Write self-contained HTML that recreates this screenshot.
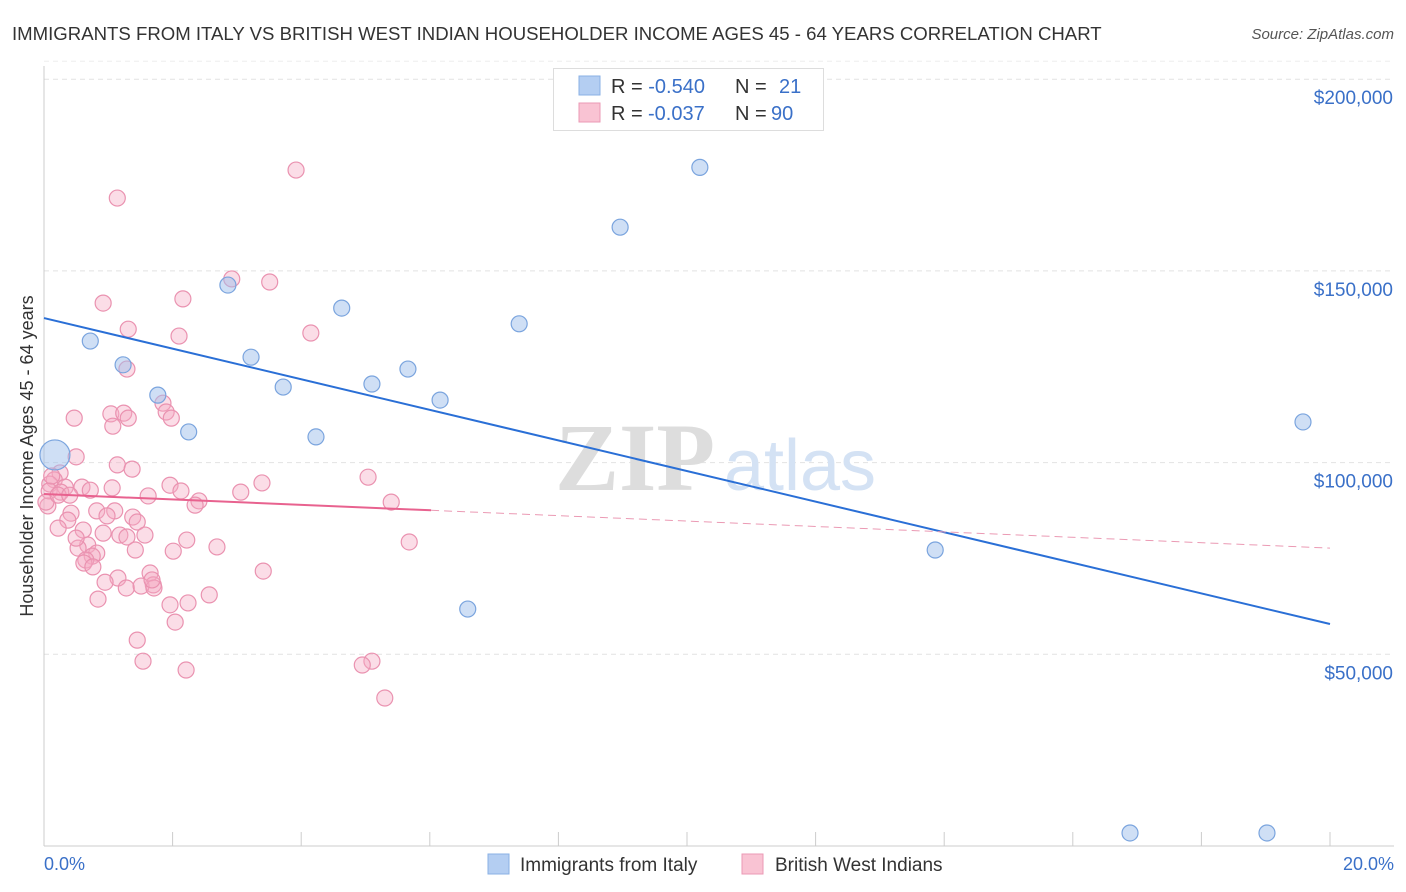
<!DOCTYPE html>
<html><head><meta charset="utf-8"><style>
body{margin:0;background:#fff;font-family:"Liberation Sans",sans-serif;}
svg{display:block}
</style></head><body>
<svg id="chart" width="1406" height="892" xmlns="http://www.w3.org/2000/svg">
<text x="12" y="40" font-size="18.6" fill="#333">IMMIGRANTS FROM ITALY VS BRITISH WEST INDIAN HOUSEHOLDER INCOME AGES 45 - 64 YEARS CORRELATION CHART</text>
<text x="1394" y="39" font-size="15" fill="#555" font-style="italic" text-anchor="end">Source: ZipAtlas.com</text>
<g id="grid"></g>
<g><text x="635" y="490" font-size="96" fill="#ddd" font-family="Liberation Serif,serif" text-anchor="middle" font-weight="bold">ZIP</text><text x="800" y="490" font-size="72" fill="#d4e2f4" text-anchor="middle">atlas</text></g>
<line x1="44" y1="66" x2="44" y2="846" stroke="#ccc"/>
<line x1="44" y1="846" x2="1394" y2="846" stroke="#ccc"/>
<g id="xt"></g>
<text x="44" y="870" font-size="18" fill="#3a70c8">0.0%</text>
<text x="1394" y="870" font-size="18" fill="#3a70c8" text-anchor="end">20.0%</text>
<text transform="translate(33,456) rotate(-90)" font-size="18" fill="#333" text-anchor="middle">Householder Income Ages 45 - 64 years</text>
<g id="pts"></g>
<g id="lines"></g>
<g>
<rect x="553.5" y="68.5" width="270" height="62" fill="#fff" stroke="#ddd"/>
<rect x="579" y="76" width="21" height="19" fill="#b4cef2" stroke="#8ab0e4"/>
<rect x="579" y="103" width="21" height="19" fill="#f9c3d3" stroke="#eb9ab4"/>
<text x="611" y="93" font-size="20" fill="#333">R = <tspan fill="#3a70c8">-0.540</tspan><tspan x="735">N = </tspan><tspan x="779" fill="#3a70c8">21</tspan></text>
<text x="611" y="120" font-size="20" fill="#333">R = <tspan fill="#3a70c8" x="648">-0.037</tspan><tspan x="735">N = </tspan><tspan x="771" fill="#3a70c8">90</tspan></text>
</g>
<g>
<rect x="488" y="854" width="21" height="20" fill="#b4cef2" stroke="#8ab0e4"/>
<text x="520" y="871" font-size="19" fill="#333">Immigrants from Italy</text>
<rect x="742" y="854" width="21" height="20" fill="#f9c3d3" stroke="#eb9ab4"/>
<text x="775" y="871" font-size="19" fill="#333">British West Indians</text>
</g>
</svg>
<script>
const yTicks=[50000,100000,150000,200000];
const yTickLabels=["$50,000","$100,000","$150,000","$200,000"];
const italyX=[0.17,0.72,1.23,1.77,2.25,2.86,3.22,3.72,4.23,4.63,5.10,5.66,6.16,6.59,7.39,8.96,10.2,13.86,16.89,19.02,19.58];
const italyY=[102,131.7,125.5,117.6,108,146.3,127.5,119.7,106.7,140.3,120.5,124.4,116.3,61.8,136.2,161.4,177,77.2,3.4,3.4,110.6];
const bwiX=[3.92,1.14,2.92,3.51,0.92,2.16,4.15,1.31,2.10,1.29,1.85,1.90,1.04,1.24,1.31,0.47,1.98,1.07,0.50,1.14,1.37,0.25,5.04,0.16,0.09,0.33,0.59,3.39,1.96,0.08,0.26,3.06,2.13,1.62,2.41,5.40,2.35,0.06,0.82,1.10,0.42,1.38,0.98,0.37,1.45,0.22,0.61,0.92,1.18,1.57,1.29,2.22,5.68,0.68,0.53,2.69,2.01,0.82,0.75,0.65,0.62,0.76,3.41,1.65,1.15,1.28,1.70,1.51,1.71,2.57,0.84,2.24,2.04,1.45,1.54,5.10,4.95,2.21,5.30,0.03,0.12,0.22,0.40,0.72,1.42,0.50,1.68,0.95,1.06,1.96];
const bwiY=[176.3,169.0,147.9,147.1,141.6,142.7,133.8,134.8,133.0,124.4,115.5,113.2,112.7,112.9,111.6,111.6,111.6,109.5,101.5,99.4,98.3,97.3,96.2,95.5,94.4,93.6,93.6,94.7,94.1,92.6,92.3,92.3,92.6,91.3,90.0,89.7,88.9,88.7,87.4,87.4,86.8,85.8,86.1,85.0,84.5,82.9,82.4,81.6,81.1,81.1,80.6,79.8,79.3,78.5,77.7,78.0,76.9,76.4,75.6,74.6,73.8,72.8,71.7,71.2,69.9,67.3,68.1,67.8,67.3,65.5,64.4,63.4,58.4,53.7,48.2,48.2,47.2,45.9,38.6,89.7,96.5,91.5,91.5,92.8,77.2,80.3,69.4,68.8,93.4,62.9];
const italyTrend=[137.7,57.9];
const bwiTrend=[91.8,77.7];
const ns="http://www.w3.org/2000/svg";
const sx=v=>44+v*64.3;
const sy=v=>846-v*191.7/50000;
const syk=v=>sy(v*1000);
function mk(tag,attrs,parent){const e=document.createElementNS(ns,tag);for(const k in attrs)e.setAttribute(k,attrs[k]);parent.appendChild(e);return e;}
const grid=document.getElementById('grid');
yTicks.forEach((t,i)=>{
 const l=mk('line',{x1:44,x2:1394,y1:sy(t),y2:sy(t),stroke:'#e2e2e2','stroke-dasharray':'5,4'},grid);
 
 
 const tx=mk('text',{x:1393,y:sy(t)+25,'font-size':19,fill:'#3a70c8','text-anchor':'end'},grid);
 tx.textContent=yTickLabels[i];
 
 
});
const gl=mk('line',{x1:44,x2:1394,y1:sy(200000)-18,y2:sy(200000)-18,stroke:'#eee','stroke-dasharray':'5,4'},grid);


const xt=document.getElementById('xt');
for(let i=1;i<=10;i++){const t=mk('line',{x1:sx(i*2),x2:sx(i*2),y1:832,y2:846,stroke:'#ccc'},xt);
 
 }
const pts=document.getElementById('pts');
bwiX.forEach((x,i)=>{const c=mk('circle',{cx:sx(x),cy:syk(bwiY[i]),r:8,fill:'rgba(246,170,195,0.4)',stroke:'#ea92b0','stroke-width':1.2},pts);
 
 });
italyX.forEach((x,i)=>{const c=mk('circle',{cx:sx(x),cy:syk(italyY[i]),r:i==0?15:8,fill:'rgba(160,192,236,0.5)',stroke:'#7aa4de','stroke-width':1.2},pts);
 
 });
const lines=document.getElementById('lines');
const l1=mk('line',{x1:sx(0),y1:syk(italyTrend[0]),x2:sx(20),y2:syk(italyTrend[1]),stroke:'#2a6fd6','stroke-width':2},lines);


const f=6.02/20;
const midY=bwiTrend[0]+(bwiTrend[1]-bwiTrend[0])*f;
const l2=mk('line',{x1:sx(0),y1:syk(bwiTrend[0]),x2:sx(6.02),y2:syk(midY),stroke:'#e8628f','stroke-width':2},lines);


const l3=mk('line',{x1:sx(6.02),y1:syk(midY),x2:sx(20),y2:syk(bwiTrend[1]),stroke:'#eb9ab4','stroke-width':1,'stroke-dasharray':'8,5'},lines);


</script>
</body></html>
